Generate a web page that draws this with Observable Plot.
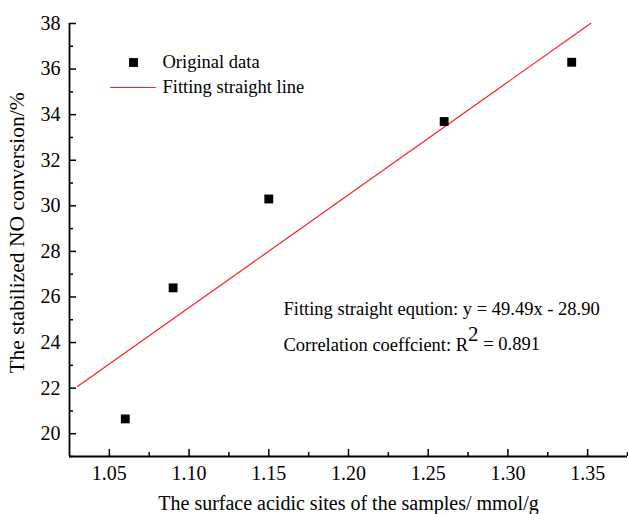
<!DOCTYPE html>
<html>
<head>
<meta charset="utf-8">
<script src="https://cdn.jsdelivr.net/npm/d3@7"></script>
<script src="https://cdn.jsdelivr.net/npm/@observablehq/plot@0.6"></script>
<style>
  html, body { margin: 0; padding: 0; background: #fff; }
  svg, svg text { font-family: 'Liberation Serif', 'Times New Roman', serif !important; }
</style>
</head>
<body>
<div id="chart"></div>
<script>
// Data
const acidSites = [1.06, 1.09, 1.15, 1.26, 1.34];
const noConversion = [20.65, 26.4, 30.3, 33.7, 36.3];

// Fitted straight line endpoints (y = 49.49x - 28.90)
const fitX = [1.03, 1.352];
const fitY = [22.07, 38.01];

const xTicks = [1.05, 1.10, 1.15, 1.20, 1.25, 1.30, 1.35];
const xMinorTicks = [1.075, 1.125, 1.175, 1.225, 1.275, 1.325, 1.375];
const yTicks = [20, 22, 24, 26, 28, 30, 32, 34, 36, 38];
const yMinorTicks = [19, 21, 23, 25, 27, 29, 31, 33, 35, 37];

const xTitle = "The surface acidic sites of the samples/ mmol/g";
const yTitle = "The stabilized NO conversion/%";
const legendLabels = ["Original data", "Fitting straight line"];
const equationText = "Fitting straight eqution: y = 49.49x - 28.90";
const correlationText = "Correlation coeffcient: R";
const correlationSup = "2";
const correlationValue = " = 0.891";

const points = acidSites.map((x, i) => ({x, y: noConversion[i]}));
const fit = fitX.map((x, i) => ({x, y: fitY[i]}));

const serif = "'Liberation Serif', 'Times New Roman', serif";
const lineShape = {draw(context, l) { context.moveTo(0, 0); context.lineTo(0, -l); }};

const chart = Plot.plot({
  width: 628,
  height: 514,
  marginLeft: 69,
  marginRight: 1,
  marginTop: 23,
  marginBottom: 58,
  style: {fontFamily: serif, fontSize: "20px", color: "black", background: "white"},
  x: {domain: [1.025, 1.375]},
  y: {domain: [19, 38]},
  marks: [
    Plot.axisX({ticks: xTicks, tickSize: -7, tickPadding: 16, strokeWidth: 1.5, tickFormat: d => d.toFixed(2),
      label: xTitle, labelAnchor: "center", labelOffset: 53, labelArrow: "none", fontSize: 20, fontFamily: serif}),
    Plot.axisX({ticks: xMinorTicks, tickSize: -4, strokeWidth: 1.5, tickFormat: () => "", label: null}),
    Plot.axisY({ticks: yTicks, tickSize: -7, tickPadding: 16, strokeWidth: 1.5, tickFormat: d => String(d),
      label: null, fontSize: 20, fontFamily: serif}),
    Plot.axisY({ticks: yMinorTicks, tickSize: -4, strokeWidth: 1.5, tickFormat: () => "", label: null}),
    Plot.text([yTitle], {text: d => d, frameAnchor: "left", dx: -52, dy: -7, rotate: -90, textAnchor: "middle", lineAnchor: "middle", fontSize: 21.5, fontFamily: serif}),
    Plot.ruleX([1.025], {stroke: "black", strokeWidth: 1.8}),
    Plot.ruleY([19], {stroke: "black", strokeWidth: 1.8}),
    Plot.line(fit, {x: "x", y: "y", stroke: "#ff2020", strokeWidth: 1.2}),
    Plot.dot(points, {x: "x", y: "y", symbol: "square", r: 5, fill: "black", stroke: "none"}),
    // legend
    Plot.dot([legendLabels[0]], {frameAnchor: "top-left", dx: 64, dy: 39, symbol: "square", r: 5, fill: "black"}),
    Plot.vector([legendLabels[1]], {frameAnchor: "top-left", dx: 41, dy: 64, rotate: 90, length: 45, anchor: "start", shape: lineShape, stroke: "#ff2020", strokeWidth: 1.2}),
    Plot.text([legendLabels[0]], {text: d => d, frameAnchor: "top-left", dx: 93, dy: 39, textAnchor: "start", lineAnchor: "middle", fontSize: 18.5, fontFamily: serif}),
    Plot.text([legendLabels[1]], {text: d => d, frameAnchor: "top-left", dx: 93, dy: 64, textAnchor: "start", lineAnchor: "middle", fontSize: 18.5, fontFamily: serif}),
    // annotations
    Plot.text([equationText], {text: d => d, frameAnchor: "top-left", dx: 214, dy: 286, textAnchor: "start", lineAnchor: "middle", fontSize: 18.5, fontFamily: serif}),
    Plot.text([correlationText], {text: d => d, frameAnchor: "top-left", dx: 214, dy: 322, textAnchor: "start", lineAnchor: "middle", fontSize: 18.5, fontFamily: serif, className: "corr"})
  ]
});

document.getElementById("chart").appendChild(chart);

// superscript for R^2
const corr = chart.querySelector(".corr text");
if (corr) {
  corr.textContent = "";
  const t1 = document.createElementNS("http://www.w3.org/2000/svg", "tspan");
  t1.textContent = correlationText;
  const t2 = document.createElementNS("http://www.w3.org/2000/svg", "tspan");
  t2.setAttribute("dy", "-0.5em");
  t2.setAttribute("font-size", "21");
  t2.textContent = correlationSup;
  const t3 = document.createElementNS("http://www.w3.org/2000/svg", "tspan");
  t3.setAttribute("dy", "0.5em");
  t3.textContent = correlationValue;
  corr.append(t1, t2, t3);
}
</script>
</body>
</html>
